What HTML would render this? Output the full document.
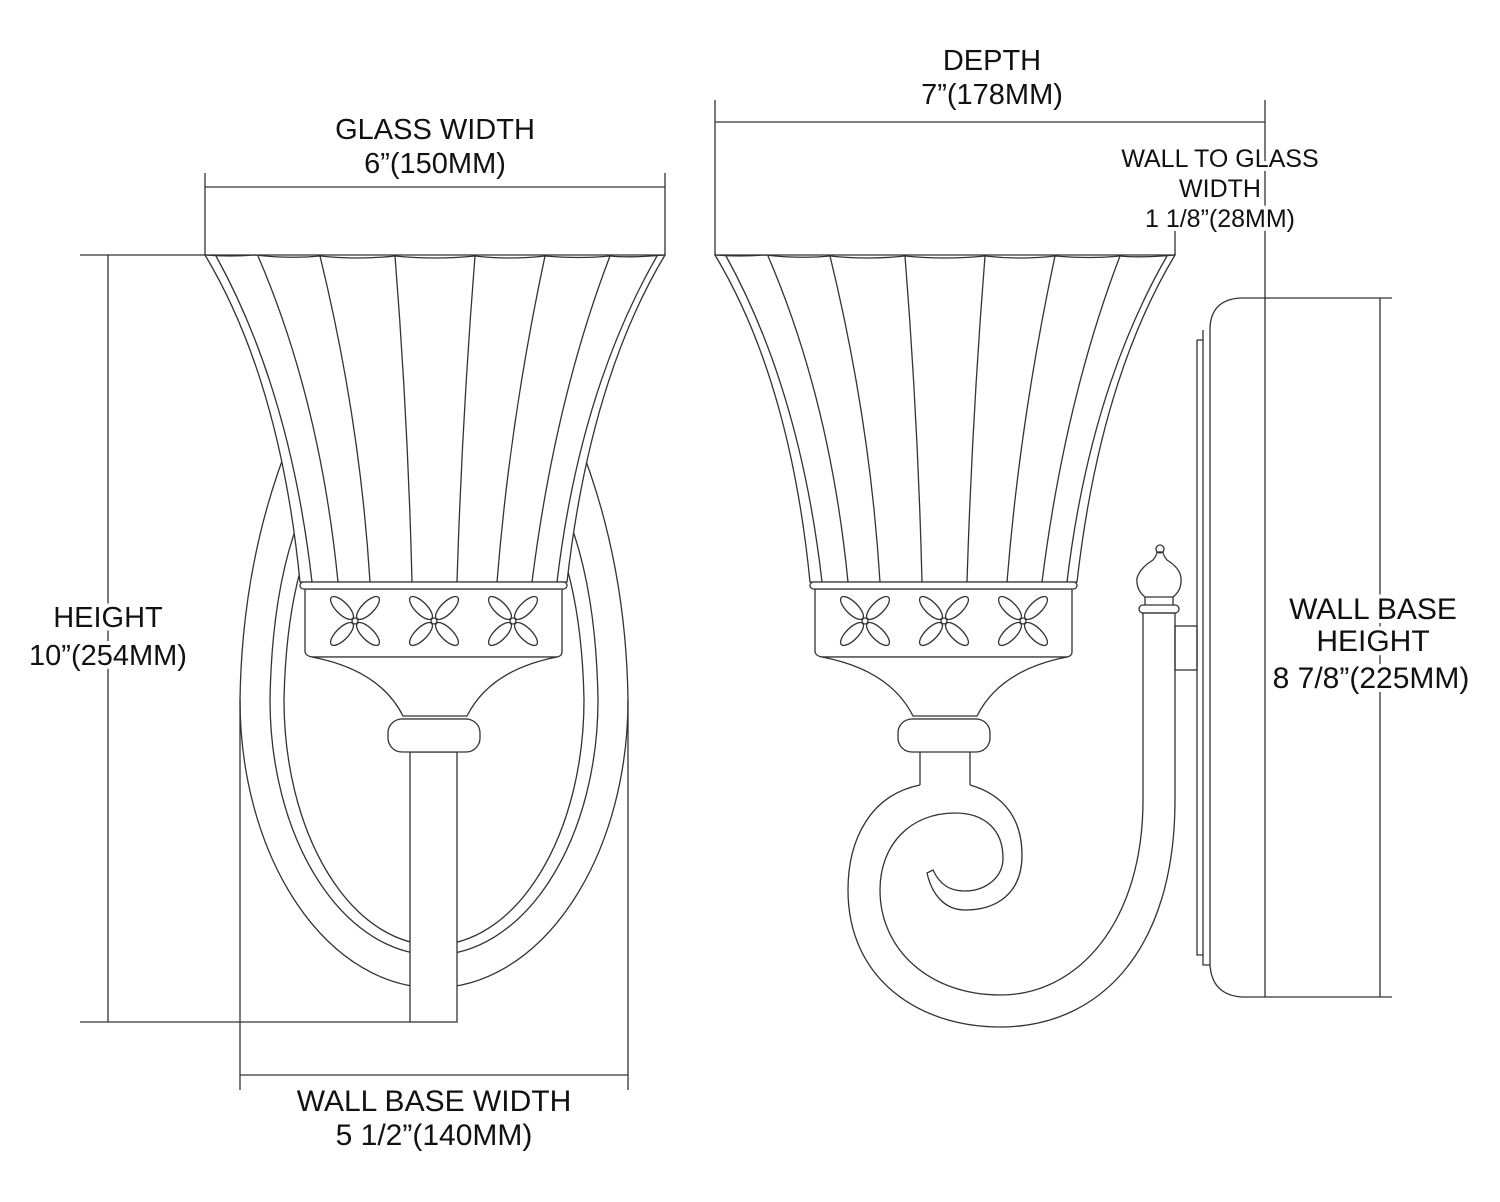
<!DOCTYPE html>
<html><head><meta charset="utf-8"><style>
html,body{margin:0;padding:0;background:#fff}
svg{display:block}
text{font-family:"Liberation Sans",Arial,sans-serif;fill:#111;text-anchor:middle;stroke:#fff;stroke-width:8;paint-order:stroke;stroke-linejoin:round}
</style></head><body>
<svg width="1500" height="1202" viewBox="0 0 1500 1202" xmlns="http://www.w3.org/2000/svg">
<defs>
<g id="flower">
<ellipse cx="-13" cy="-13" rx="15" ry="6" transform="rotate(45 -13 -13)"/>
<ellipse cx="13" cy="-13" rx="15" ry="6" transform="rotate(-45 13 -13)"/>
<ellipse cx="-13" cy="13" rx="15" ry="6" transform="rotate(-45 -13 13)"/>
<ellipse cx="13" cy="13" rx="15" ry="6" transform="rotate(45 13 13)"/>
<circle cx="0" cy="0" r="3"/>
</g>
<g id="lamp">
<path d="M205 255 Q280 380 300 582 L567 582 Q590 380 665 255 Z" fill="#fff"/>
<path d="M205 255 Q230 257 255 255 Q290 259 320 256 Q358 260 395 256 Q435 260 475 256 Q510 260 545 256 Q580 259 610 256 Q630 258 665 255"/>
<path d="M216 256 Q290 390 312 582"/>
<path d="M657 256 Q580 390 557 582"/>
<path d="M258 256 Q320 400 338 582"/>
<path d="M320 256 Q360 420 370 582"/>
<path d="M395 256 Q408 420 412 582"/>
<path d="M475 256 Q462 420 457 582"/>
<path d="M545 256 Q510 420 497 582"/>
<path d="M610 256 Q555 400 532 582"/>
<path d="M305 589 L305 652 Q306 656 312 657 L557 657 Q562 656 562 652 L562 589 Z" fill="#fff"/>
<path d="M312 657 Q380 670 403 716 L467 716 Q490 670 557 657 Z" fill="#fff"/>
<rect x="300" y="582" width="267" height="7" rx="3.5" fill="#fff"/>
<use href="#flower" x="355" y="621"/>
<use href="#flower" x="434" y="621"/>
<use href="#flower" x="513" y="621"/>
<path d="M402 719 L468 719"/>
<rect x="388" y="719" width="92" height="33" rx="14" fill="#fff"/>
</g>
</defs>
<g fill="none" stroke="#333" stroke-width="1.3">
<path d="M240 700 A194 288 0 0 0 628 700"/>
<path d="M240 700 Q242 560 290 440"/>
<path d="M628 700 Q626 560 578 440"/>
<path d="M270 700 Q272 580 305 505"/>
<path d="M598 700 Q596 580 563 505"/>
<path d="M270 700 A164 255 0 0 0 598 700"/>
<path d="M284 700 Q286 600 312 535"/>
<path d="M584 700 Q582 600 556 535"/>
<path d="M284 700 A150 245 0 0 0 584 700"/>
<!-- dimension lines -->
<path d="M205 173 L205 255 M665 173 L665 255 M205 187 L665 187"/>
<path d="M80 255 L205 255 M80 1022 L410 1022 M108 255 L108 1022"/>
<path d="M240 700 L240 1090 M628 700 L628 1090 M240 1075 L628 1075"/>
<path d="M715 100 L715 255 M715 122 L1265 122 M1265 100 L1265 997"/>
<path d="M1175 230 L1175 255"/>
<path d="M1265 298 L1392 298 M1265 997 L1392 997 M1380 298 L1380 997"/>
<rect x="410" y="752" width="47" height="270" fill="#fff"/>
<use href="#lamp"/>
<use href="#lamp" x="510"/>
<path d="M920 752 L920 785 M970 752 L970 785"/>
<path d="M920 785 C870 795 848 840 848 890 C848 980 920 1027 1000 1027 C1100 1027 1175 950 1175 800 L1175 613"/>
<path d="M970 785 C1005 795 1022 820 1022 855 C1022 895 995 910 965 910 C945 910 932 895 927 873 L933 870 C940 885 950 891 965 891 C985 891 1003 878 1003 858 C1003 830 985 813 955 813 C910 813 880 845 880 890 C880 950 930 995 1000 995 C1080 995 1143 920 1143 800 L1143 613"/>
<path d="M1143 613 L1175 613"/>
<rect x="1139" y="605" width="40" height="8" rx="4"/>
<path d="M1145 605 L1145 597 L1173 597 L1173 605"/>
<path d="M1145 597 Q1136 590 1137 578 Q1140 568 1153 560 Q1157 555 1157 552 L1163 552 Q1163 555 1167 560 Q1180 568 1181 578 Q1182 590 1173 597"/>
<circle cx="1160" cy="549" r="4"/>
<rect x="1175" y="626" width="22" height="44"/>
<path d="M1197 340 L1197 955 L1203 955"/>
<path d="M1203 330 L1203 965 L1210 965"/>
<path d="M1203 340 L1197 340"/>
<path d="M1265 298 L1240 298 Q1210 300 1210 330 L1210 965 Q1212 995 1242 997 L1265 997"/>
</g>
<text x="435" y="139" font-size="29">GLASS WIDTH</text>
<text x="435" y="173" font-size="29">6”(150MM)</text>
<text x="992" y="70" font-size="29">DEPTH</text>
<text x="992" y="104" font-size="29">7”(178MM)</text>
<text x="1220" y="167" font-size="25">WALL TO GLASS</text>
<text x="1220" y="197" font-size="25">WIDTH</text>
<text x="1220" y="227" font-size="25">1 1/8”(28MM)</text>
<text x="108" y="627" font-size="29">HEIGHT</text>
<text x="108" y="665" font-size="29">10”(254MM)</text>
<text x="434" y="1111" font-size="30">WALL BASE WIDTH</text>
<text x="434" y="1145" font-size="30">5 1/2”(140MM)</text>
<text x="1373" y="619" font-size="30">WALL BASE</text>
<text x="1373" y="651" font-size="30">HEIGHT</text>
<text x="1371" y="688" font-size="30">8 7/8”(225MM)</text>
</svg>
</body></html>
